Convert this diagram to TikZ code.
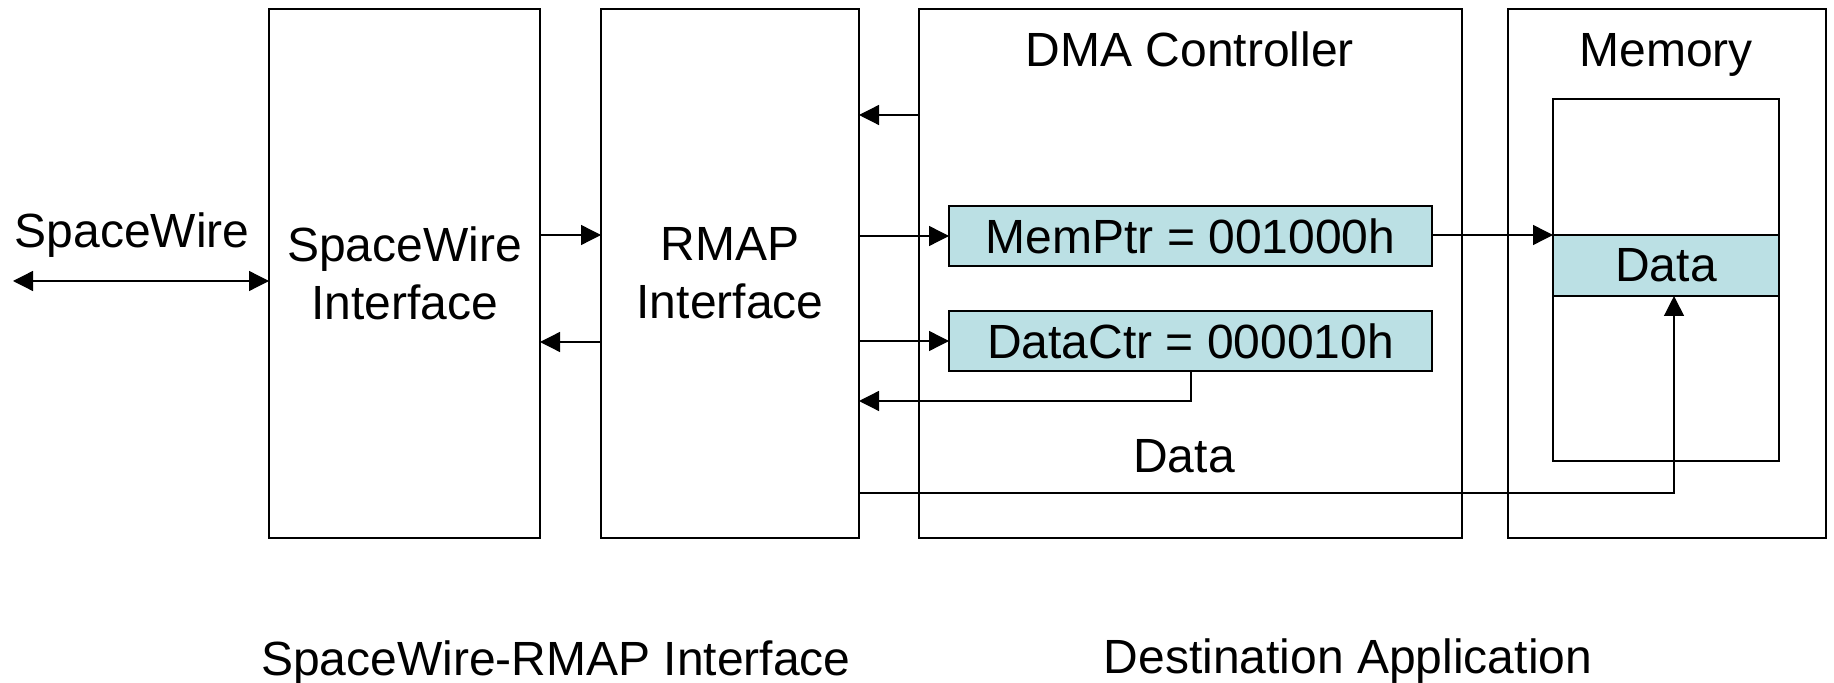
\documentclass[tikz,border=0pt]{standalone}
\usepackage{fontspec}
\setmainfont{Liberation Sans}
\usetikzlibrary{arrows.meta}
\definecolor{cellfill}{RGB}{187,224,228}
\tikzset{
  box/.style={draw, line width=0.65pt, inner sep=0pt, outer sep=0pt, align=center},
  cell/.style={box, fill=cellfill},
  lbl/.style={inner sep=0pt, align=center, anchor=base},
  conn/.style={line width=0.65pt, -{Triangle[length=10pt,width=10pt]}},
  bconn/.style={line width=0.65pt, {Triangle[length=10pt,width=10pt]}-{Triangle[length=10pt,width=10pt]}}
}
\begin{document}
\begin{tikzpicture}[x=0.5pt,y=-0.5pt,font=\fontsize{24}{29}\selectfont]
\useasboundingbox (0,0) rectangle (1834,683);
% main boxes
\node[box, minimum width=135.5pt, minimum height=264.5pt] (sw) at (404.5,273.5) {SpaceWire\\Interface};
\node[box, minimum width=129pt, minimum height=264.5pt] (rmap) at (730,273.5) {RMAP\\Interface};
\node[box, minimum width=271.5pt, minimum height=264.5pt] (dma) at (1190.5,273.5) {};
\node[box, minimum width=159pt, minimum height=264.5pt] (mem) at (1667,273.5) {};
% inner memory
\node[box, minimum width=113pt, minimum height=181pt] (memin) at (1666,280) {};
\node[cell, minimum width=113pt, minimum height=30.5pt] (data) at (1666,265.5) {Data};
% registers
\node[cell, minimum width=241.5pt, minimum height=30pt] (memptr) at (1190.5,236) {MemPtr = 001000h};
\node[cell, minimum width=241.5pt, minimum height=30pt] (datactr) at (1190.5,341) {DataCtr = 000010h};
% labels
\node[lbl] (swlbl) at (132,248) {SpaceWire};
\node[lbl] (dmalbl) at (1190,67) {DMA Controller};
\node[lbl] (memlbl) at (1666,67) {Memory};
\node[lbl] (datalbl) at (1184,473) {Data};
\node[lbl] (swrmap) at (556,675) {SpaceWire-RMAP Interface};
\node[lbl] (destapp) at (1348,673) {Destination Application};
% connectors
\coordinate (swend) at (13,281);
\draw[bconn] (swend) -- (swend -| sw.west);
\draw[conn] (sw.east |- 0,235) -- (rmap.west |- 0,235);
\draw[conn] (rmap.west |- 0,342) -- (sw.east |- 0,342);
\draw[conn] (dma.west |- 0,115) -- (rmap.east |- 0,115);
\draw[conn] (rmap.east |- memptr.west) -- (memptr.west);
\draw[conn] (rmap.east |- datactr.west) -- (datactr.west);
\coordinate (fb) at (1191,401);
\draw[conn] (datactr.south -| fb) |- (rmap.east |- fb);
\draw[conn] (memptr.east |- 0,235) -- (data.north west);
\coordinate (dd) at (1674,493);
\draw[conn] (rmap.east |- dd) -| (data.south -| dd);
\end{tikzpicture}
\end{document}
